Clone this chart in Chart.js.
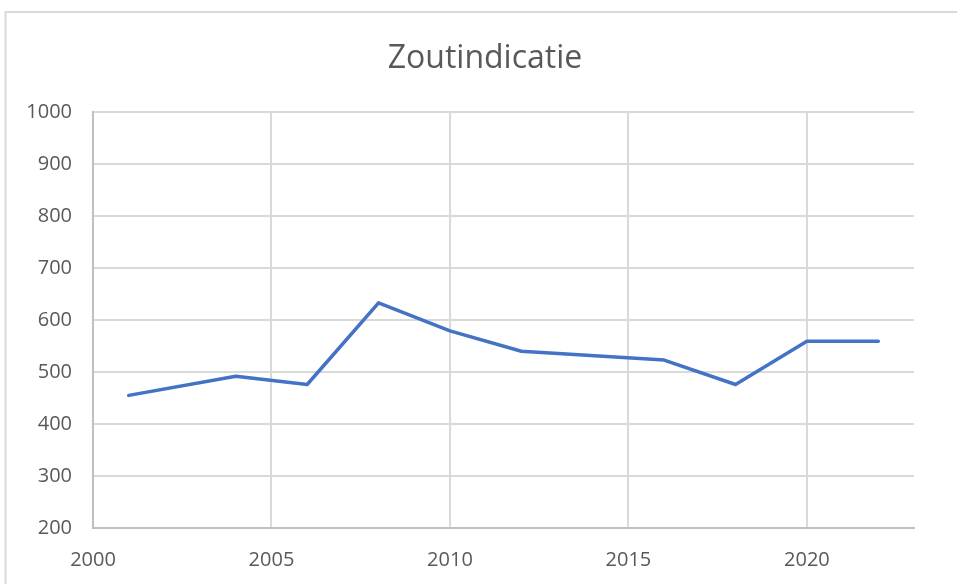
<!DOCTYPE html>
<html>
<head>
<meta charset="utf-8">
<script src="https://cdn.jsdelivr.net/npm/chart.js@4"></script>
<style>
  html, body { margin: 0; padding: 0; background: #fff; }
  #wrap { width: 957px; height: 584px; }
</style>
</head>
<body>
<div id="wrap"><canvas id="chart1" width="957" height="584"></canvas></div>
<script>
var years = [2001, 2004, 2006, 2008, 2010, 2012, 2016, 2018, 2020, 2022]
var zout = [455, 492, 476, 633, 579, 540, 523, 476, 559, 559]
var xTicks = [2000, 2005, 2010, 2015, 2020]
var yTicks = [200, 300, 400, 500, 600, 700, 800, 900, 1000]
var titleText = 'Zoutindicatie'

var points = years.map(function (y, i) { return { x: y, y: zout[i] } })

var textColor = '#595959'
var tickFont = { family: 'Open Sans', size: 20 }

// frame around the chart (only top and left are in the shot) + title
// centred on the whole Excel chart object, not on the plot
const framePlugin = {
  id: 'frame',
  beforeDraw: function (chart) {
    var ctx = chart.ctx
    ctx.save()
    ctx.fillStyle = '#ffffff'
    ctx.fillRect(0, 0, chart.width, chart.height)
    ctx.strokeStyle = '#d9d9d9'
    ctx.lineWidth = 2
    ctx.beginPath()
    ctx.moveTo(5.5, chart.height)
    ctx.lineTo(5.5, 12)
    ctx.lineTo(chart.width, 12)
    ctx.stroke()
    ctx.restore()
  },
  afterDraw: function (chart) {
    var ctx = chart.ctx
    ctx.save()
    ctx.fillStyle = textColor
    ctx.font = '32px "Open Sans"'
    ctx.textAlign = 'center'
    ctx.textBaseline = 'alphabetic'
    ctx.fillText(titleText, 485, 68)
    ctx.restore()
  },
}

var chart1 = new Chart(document.getElementById('chart1').getContext('2d'), {
  type: 'line',
  data: {
    datasets: [
      {
        label: titleText,
        data: points,
        borderColor: '#4472c4',
        backgroundColor: '#4472c4',
        borderWidth: 3.5,
        pointRadius: 0,
        tension: 0,
        borderJoinStyle: 'round',
        borderCapStyle: 'round',
      },
    ],
  },
  options: {
    responsive: false,
    animation: false,
    layout: { padding: { left: 0, right: 43, top: 112, bottom: 12 } },
    plugins: {
      legend: { display: false },
      tooltip: { enabled: false },
      title: { display: false },
    },
    scales: {
      x: {
        type: 'linear',
        min: 2000,
        max: 2023,
        afterBuildTicks: function (scale) {
          scale.ticks = xTicks.map(function (v) { return { value: v } })
        },
        ticks: {
          color: textColor,
          font: tickFont,
          padding: 20,
          includeBounds: false,
          callback: function (v) { return String(v) },
        },
        grid: { color: '#d9d9d9', lineWidth: 2, drawTicks: false, tickLength: 0 },
        border: { color: '#bfbfbf', width: 2 },
        afterFit: function (scale) { scale.height = 44 },
      },
      y: {
        min: 200,
        max: 1000,
        afterBuildTicks: function (scale) {
          scale.ticks = yTicks.map(function (v) { return { value: v } })
        },
        ticks: {
          color: textColor,
          font: tickFont,
          padding: 21,
          callback: function (v) { return String(v) },
        },
        grid: { color: '#d9d9d9', lineWidth: 2, drawTicks: false, tickLength: 0 },
        border: { color: '#bfbfbf', width: 2 },
        afterFit: function (scale) { scale.width = 93 },
      },
    },
  },
  plugins: [framePlugin],
})
</script>
</body>
</html>
